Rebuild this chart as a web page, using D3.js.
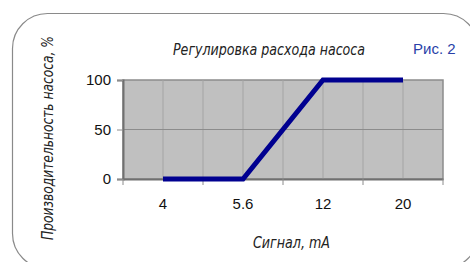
<!DOCTYPE html>
<meta charset="utf-8">
<style>
 body { margin: 0; background: #fff; }
 svg { display: block; }
 .tick text { font: 15px "Liberation Sans", Arial, sans-serif; fill: #111; }
 .ttl { font-family: "Liberation Sans Narrow", "DejaVu Sans Condensed", sans-serif; font-stretch: condensed; font-style: italic; font-size: 16.5px; fill: #222; }
</style>
<body>
<svg width="470" height="262"></svg>
<script src="https://cdn.jsdelivr.net/npm/d3@7"></script>
<script>
 var categories = ["4", "5.6", "12", "20"];
 var values = [0, 0, 100, 100];
 var yTicks = [0, 50, 100];

 var svg = d3.select("svg"),
     plotL = 123, plotR = 443, plotT = 80, plotB = 179;

 // rounded frame
 svg.append("rect")
    .attr("x", 12.5).attr("y", 13.5)
    .attr("width", 466).attr("height", 255)
    .attr("rx", 35).attr("ry", 35)
    .attr("fill", "none").attr("stroke", "#8a8a8a").attr("stroke-width", 1.2);

 var x = d3.scaleBand().domain(categories).range([plotL, plotR]).padding(0);
 var y = d3.scaleLinear().domain([0, 100]).range([plotB, plotT]);

 // plot area
 svg.append("rect")
    .attr("x", plotL).attr("y", plotT)
    .attr("width", plotR - plotL).attr("height", plotB - plotT)
    .attr("fill", "#c0c0c0").attr("stroke", "#8c8c8c").attr("stroke-width", 1.5);

 // vertical gridlines: band edges and centres
 var gx = [];
 categories.forEach(function(c, i) {
     if (i > 0) gx.push(x(c));
     gx.push(x(c) + x.bandwidth() / 2);
 });
 svg.selectAll(".vg").data(gx).enter().append("line")
    .attr("x1", function(d) { return d; }).attr("x2", function(d) { return d; })
    .attr("y1", plotT).attr("y2", plotB)
    .attr("stroke", "#a4a4a4").attr("stroke-width", 1);

 svg.selectAll(".hg").data(yTicks.slice(1, -1)).enter().append("line")
    .attr("x1", plotL).attr("x2", plotR)
    .attr("y1", function(d) { return y(d); }).attr("y2", function(d) { return y(d); })
    .attr("stroke", "#8c8c8c").attr("stroke-width", 1);

 // axes
 var yAxis = svg.append("g").attr("transform", "translate(" + plotL + ",0)")
    .call(d3.axisLeft(y).tickValues(yTicks).tickSize(6).tickPadding(6));
 yAxis.select(".domain").attr("stroke", "#707070").attr("stroke-width", 2);
 yAxis.selectAll(".tick line").attr("stroke", "#8c8c8c");

 var xAxis = svg.append("g").attr("transform", "translate(0," + plotB + ")")
    .call(d3.axisBottom(x).tickSize(0).tickPadding(19));
 xAxis.select(".domain").attr("stroke", "#707070").attr("stroke-width", 2);
 xAxis.selectAll(".tick line").remove();
 // ticks between categories
 var edges = categories.map(function(c) { return x(c); }).concat([plotR]);
 xAxis.selectAll(".xt").data(edges).enter().append("line")
    .attr("x1", function(d) { return d; }).attr("x2", function(d) { return d; })
    .attr("y1", 0).attr("y2", 6)
    .attr("stroke", "#8c8c8c");

 // series
 var line = d3.line()
    .x(function(d, i) { return x(categories[i]) + x.bandwidth() / 2; })
    .y(function(d) { return y(d); });
 svg.append("path").datum(values)
    .attr("d", line)
    .attr("fill", "none").attr("stroke", "#000090").attr("stroke-width", 5);

 // titles (narrow italic, squeezed to the reference widths)
 svg.append("text").attr("class", "ttl")
    .attr("x", 173).attr("y", 55)
    .attr("textLength", 192).attr("lengthAdjust", "spacingAndGlyphs")
    .text("Регулировка расхода насоса");
 svg.append("text")
    .attr("x", 413).attr("y", 54)
    .style("font", "15px 'Liberation Sans', Arial, sans-serif").attr("fill", "#2a3fa8")
    .text("Рис. 2");
 svg.append("text").attr("class", "ttl")
    .attr("transform", "translate(53,240) rotate(-90)")
    .attr("textLength", 204).attr("lengthAdjust", "spacingAndGlyphs")
    .text("Производительность насоса, %");
 svg.append("text").attr("class", "ttl")
    .attr("x", 253).attr("y", 248)
    .attr("textLength", 77).attr("lengthAdjust", "spacingAndGlyphs")
    .text("Сигнал, mA");
</script>
</body>
